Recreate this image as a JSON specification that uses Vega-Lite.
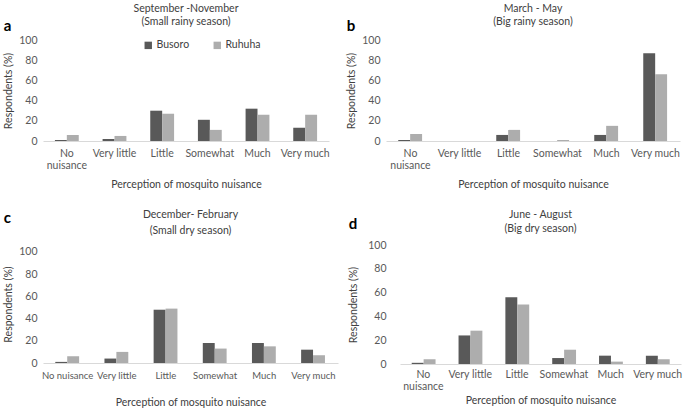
{
  "$schema": "https://vega.github.io/schema/vega-lite/v6.json",
  "background": "white",
  "padding": {"left": 3, "top": 3, "right": 1, "bottom": 0},
  "config": {
    "font": "Lato",
    "view": {"stroke": null},
    "axis": {"labelColor": "#595959", "titleColor": "#404040", "labelFontSize": 10.5, "titleFontSize": 10.5, "titleFontWeight": "normal", "grid": false, "ticks": false},
    "axisY": {"domain": false, "labelPadding": 6, "titlePadding": 5},
    "axisX": {"domainColor": "#d9d9d9", "labelAngle": 0, "labelPadding": 7, "titlePadding": 9, "labelLineHeight": 12},
    "title": {"fontSize": 10.5, "fontWeight": "normal", "color": "#404040", "lineHeight": 13},
    "legend": {"orient": "none", "direction": "horizontal", "title": null, "symbolType": "square", "symbolSize": 55, "symbolStrokeWidth": 0, "labelFontSize": 10.5, "labelColor": "#404040", "labelOffset": 3}
  },
  "datasets": {
    "survey": [
      {"panel": "a", "cat": "No nuisance", "site": "Busoro", "value": 1},
      {"panel": "a", "cat": "No nuisance", "site": "Ruhuha", "value": 6},
      {"panel": "a", "cat": "Very little", "site": "Busoro", "value": 2},
      {"panel": "a", "cat": "Very little", "site": "Ruhuha", "value": 5},
      {"panel": "a", "cat": "Little", "site": "Busoro", "value": 30},
      {"panel": "a", "cat": "Little", "site": "Ruhuha", "value": 27},
      {"panel": "a", "cat": "Somewhat", "site": "Busoro", "value": 21},
      {"panel": "a", "cat": "Somewhat", "site": "Ruhuha", "value": 11},
      {"panel": "a", "cat": "Much", "site": "Busoro", "value": 32},
      {"panel": "a", "cat": "Much", "site": "Ruhuha", "value": 26},
      {"panel": "a", "cat": "Very much", "site": "Busoro", "value": 13},
      {"panel": "a", "cat": "Very much", "site": "Ruhuha", "value": 26},
      {"panel": "b", "cat": "No nuisance", "site": "Busoro", "value": 1},
      {"panel": "b", "cat": "No nuisance", "site": "Ruhuha", "value": 7},
      {"panel": "b", "cat": "Very little", "site": "Busoro", "value": 0},
      {"panel": "b", "cat": "Very little", "site": "Ruhuha", "value": 0},
      {"panel": "b", "cat": "Little", "site": "Busoro", "value": 6},
      {"panel": "b", "cat": "Little", "site": "Ruhuha", "value": 11},
      {"panel": "b", "cat": "Somewhat", "site": "Busoro", "value": 0},
      {"panel": "b", "cat": "Somewhat", "site": "Ruhuha", "value": 1},
      {"panel": "b", "cat": "Much", "site": "Busoro", "value": 6},
      {"panel": "b", "cat": "Much", "site": "Ruhuha", "value": 15},
      {"panel": "b", "cat": "Very much", "site": "Busoro", "value": 87},
      {"panel": "b", "cat": "Very much", "site": "Ruhuha", "value": 66},
      {"panel": "c", "cat": "No nuisance", "site": "Busoro", "value": 1},
      {"panel": "c", "cat": "No nuisance", "site": "Ruhuha", "value": 6},
      {"panel": "c", "cat": "Very little", "site": "Busoro", "value": 4},
      {"panel": "c", "cat": "Very little", "site": "Ruhuha", "value": 10},
      {"panel": "c", "cat": "Little", "site": "Busoro", "value": 48},
      {"panel": "c", "cat": "Little", "site": "Ruhuha", "value": 49},
      {"panel": "c", "cat": "Somewhat", "site": "Busoro", "value": 18},
      {"panel": "c", "cat": "Somewhat", "site": "Ruhuha", "value": 13},
      {"panel": "c", "cat": "Much", "site": "Busoro", "value": 18},
      {"panel": "c", "cat": "Much", "site": "Ruhuha", "value": 15},
      {"panel": "c", "cat": "Very much", "site": "Busoro", "value": 12},
      {"panel": "c", "cat": "Very much", "site": "Ruhuha", "value": 7},
      {"panel": "d", "cat": "No nuisance", "site": "Busoro", "value": 1},
      {"panel": "d", "cat": "No nuisance", "site": "Ruhuha", "value": 4},
      {"panel": "d", "cat": "Very little", "site": "Busoro", "value": 24},
      {"panel": "d", "cat": "Very little", "site": "Ruhuha", "value": 28},
      {"panel": "d", "cat": "Little", "site": "Busoro", "value": 56},
      {"panel": "d", "cat": "Little", "site": "Ruhuha", "value": 50},
      {"panel": "d", "cat": "Somewhat", "site": "Busoro", "value": 5},
      {"panel": "d", "cat": "Somewhat", "site": "Ruhuha", "value": 12},
      {"panel": "d", "cat": "Much", "site": "Busoro", "value": 7},
      {"panel": "d", "cat": "Much", "site": "Ruhuha", "value": 2},
      {"panel": "d", "cat": "Very much", "site": "Busoro", "value": 7},
      {"panel": "d", "cat": "Very much", "site": "Ruhuha", "value": 4}
    ]
  },
  "spacing": 19,
  "vconcat": [
    {
      "spacing": 16,
      "hconcat": [
        {
          "title": {"text": "a", "anchor": "start", "fontWeight": "bold", "fontSize": 15, "color": "#000000", "offset": -30},
          "vconcat": [
            {
              "width": 286, "height": 101,
              "title": {"text": ["September -November", "(Small rainy season)"], "offset": 8},
              "data": {"name": "survey"},
              "transform": [{"filter": "datum.panel == 'a'"}],
              "mark": {"type": "bar"},
              "encoding": {
                "x": {"field": "cat", "type": "nominal", "sort": ["No nuisance", "Very little", "Little", "Somewhat", "Much", "Very much"], "scale": {"paddingInner": 0.5, "paddingOuter": 0.25}, "axis": {"title": "Perception of mosquito nuisance", "labelExpr": "datum.label == 'No nuisance' ? ['No', 'nuisance'] : datum.label"}},
                "xOffset": {"field": "site", "type": "nominal", "sort": ["Busoro", "Ruhuha"]},
                "y": {"field": "value", "type": "quantitative", "scale": {"domain": [0, 100]}, "axis": {"title": "Respondents (%)", "values": [0, 20, 40, 60, 80, 100]}},
                "color": {"field": "site", "type": "nominal", "scale": {"domain": ["Busoro", "Ruhuha"], "range": ["#595959", "#adadad"]}, "legend": {"legendX": 100, "legendY": 0, "columnPadding": 22}}
              }
            }
          ]
        },
        {
          "title": {"text": "b", "anchor": "start", "fontWeight": "bold", "fontSize": 15, "color": "#000000", "offset": -30},
          "vconcat": [
            {
              "width": 294, "height": 101,
              "title": {"text": ["March - May", "(Big rainy season)"], "offset": 8},
              "data": {"name": "survey"},
              "transform": [{"filter": "datum.panel == 'b'"}],
              "mark": {"type": "bar"},
              "encoding": {
                "x": {"field": "cat", "type": "nominal", "sort": ["No nuisance", "Very little", "Little", "Somewhat", "Much", "Very much"], "scale": {"paddingInner": 0.5, "paddingOuter": 0.25}, "axis": {"title": "Perception of mosquito nuisance", "labelExpr": "datum.label == 'No nuisance' ? ['No', 'nuisance'] : datum.label"}},
                "xOffset": {"field": "site", "type": "nominal", "sort": ["Busoro", "Ruhuha"]},
                "y": {"field": "value", "type": "quantitative", "scale": {"domain": [0, 100]}, "axis": {"title": "Respondents (%)", "values": [0, 20, 40, 60, 80, 100]}},
                "color": {"field": "site", "type": "nominal", "scale": {"domain": ["Busoro", "Ruhuha"], "range": ["#595959", "#adadad"]}, "legend": {"legendX": 78, "legendY": 0, "columnPadding": 20}}
              }
            }
          ]
        }
      ]
    },
    {
      "spacing": 10,
      "hconcat": [
        {
          "title": {"text": "c", "anchor": "start", "fontWeight": "bold", "fontSize": 15, "color": "#000000", "offset": -16},
          "vconcat": [
            {
              "width": 295, "height": 118,
              "title": {"text": ["December- February", "(Small dry season)"], "offset": 9, "lineHeight": 16},
              "data": {"name": "survey"},
              "transform": [{"filter": "datum.panel == 'c'"}],
              "mark": {"type": "bar"},
              "encoding": {
                "x": {"field": "cat", "type": "nominal", "sort": ["No nuisance", "Very little", "Little", "Somewhat", "Much", "Very much"], "scale": {"paddingInner": 0.5, "paddingOuter": 0.25}, "axis": {"title": "Perception of mosquito nuisance", "titlePadding": 18, "labelFontSize": 9.5}},
                "xOffset": {"field": "site", "type": "nominal", "sort": ["Busoro", "Ruhuha"]},
                "y": {"field": "value", "type": "quantitative", "scale": {"domain": [0, 106.3], "nice": false}, "axis": {"title": "Respondents (%)", "values": [0, 20, 40, 60, 80, 100]}},
                "color": {"field": "site", "type": "nominal", "scale": {"domain": ["Busoro", "Ruhuha"], "range": ["#595959", "#adadad"]}, "legend": {"legendX": 85, "legendY": 20, "columnPadding": 6}}
              }
            }
          ]
        },
        {
          "title": {"text": "d", "anchor": "start", "fontWeight": "bold", "fontSize": 15, "color": "#000000", "offset": -22},
          "vconcat": [
            {
              "width": 281, "height": 119,
              "title": {"text": ["June - August", "(Big dry season)"], "offset": 6, "lineHeight": 14},
              "data": {"name": "survey"},
              "transform": [{"filter": "datum.panel == 'd'"}],
              "mark": {"type": "bar"},
              "encoding": {
                "x": {"field": "cat", "type": "nominal", "sort": ["No nuisance", "Very little", "Little", "Somewhat", "Much", "Very much"], "scale": {"paddingInner": 0.5, "paddingOuter": 0.25}, "axis": {"title": "Perception of mosquito nuisance", "labelPadding": 5, "titlePadding": 4, "labelExpr": "datum.label == 'No nuisance' ? ['No', 'nuisance'] : datum.label"}},
                "xOffset": {"field": "site", "type": "nominal", "sort": ["Busoro", "Ruhuha"]},
                "y": {"field": "value", "type": "quantitative", "scale": {"domain": [0, 100]}, "axis": {"title": "Respondents (%)", "values": [0, 20, 40, 60, 80, 100], "labelPadding": 14, "titlePadding": 9}},
                "color": {"field": "site", "type": "nominal", "scale": {"domain": ["Busoro", "Ruhuha"], "range": ["#595959", "#adadad"]}, "legend": {"legendX": 78, "legendY": 14, "columnPadding": 6}}
              }
            }
          ]
        }
      ]
    }
  ]
}
